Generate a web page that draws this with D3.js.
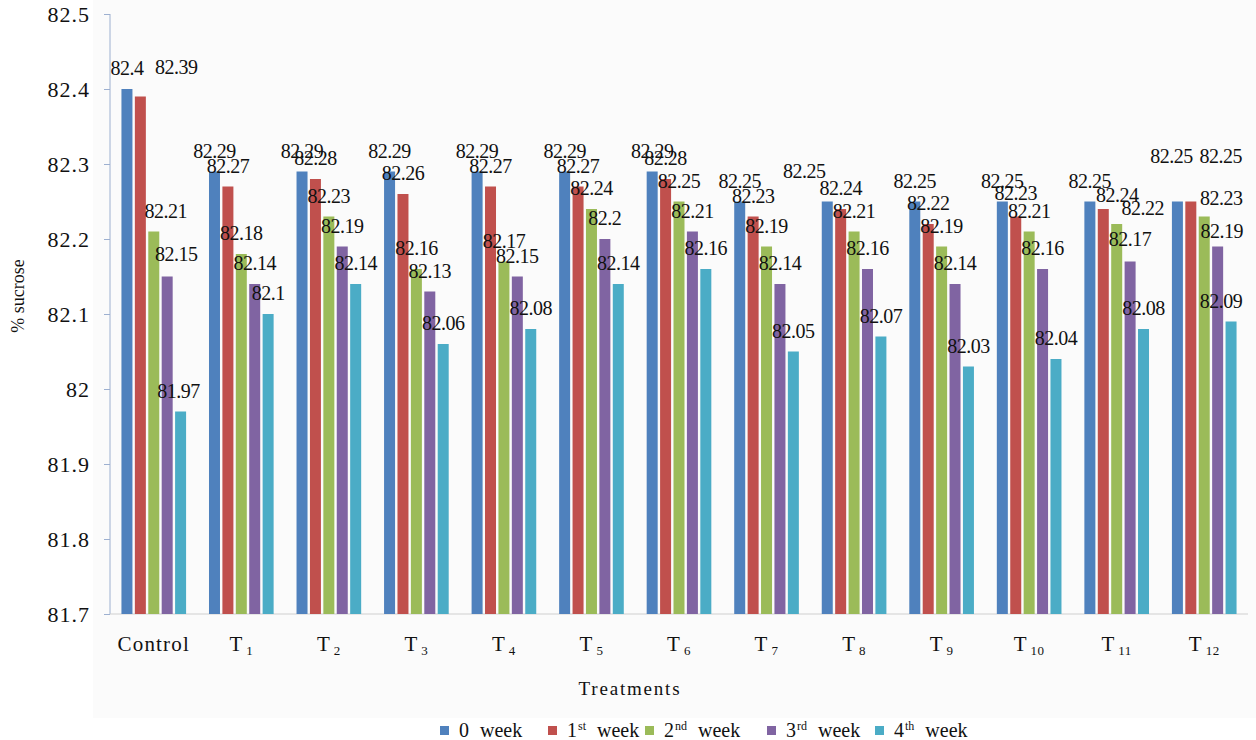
<!DOCTYPE html>
<html>
<head>
<meta charset="utf-8">
<script src="https://cdn.jsdelivr.net/npm/d3@7"></script>
<style>
  html, body { margin: 0; padding: 0; background: #fff; }
  svg { display: block; }
  svg text { font-family: "Liberation Serif", "Times New Roman", serif !important; }
</style>
</head>
<body>
<svg id="chart" width="1256" height="740"></svg>
<script>
// Treatments on the x axis
const categories = ["Control", "T1", "T2", "T3", "T4", "T5", "T6", "T7", "T8", "T9", "T10", "T11", "T12"];

// % sucrose per storage week
const week0 = [82.4, 82.29, 82.29, 82.29, 82.29, 82.29, 82.29, 82.25, 82.25, 82.25, 82.25, 82.25, 82.25];
const week1 = [82.39, 82.27, 82.28, 82.26, 82.27, 82.27, 82.28, 82.23, 82.24, 82.22, 82.23, 82.24, 82.25];
const week2 = [82.21, 82.18, 82.23, 82.16, 82.17, 82.24, 82.25, 82.19, 82.21, 82.19, 82.21, 82.22, 82.23];
const week3 = [82.15, 82.14, 82.19, 82.13, 82.15, 82.2, 82.21, 82.14, 82.16, 82.14, 82.16, 82.17, 82.19];
const week4 = [81.97, 82.1, 82.14, 82.06, 82.08, 82.14, 82.16, 82.05, 82.07, 82.03, 82.04, 82.08, 82.09];

// Legend entries: numeral + superscript suffix + "week"
const seriesNum = ["0", "1", "2", "3", "4"];
const seriesSup = ["", "st", "nd", "rd", "th"];

// Y axis ticks and their labels
const yTickValues = [81.7, 81.8, 81.9, 82.0, 82.1, 82.2, 82.3, 82.4, 82.5];
const yTickLabels = ["81.7", "81.8", "81.9", "82", "82.1", "82.2", "82.3", "82.4", "82.5"];

const series = [week0, week1, week2, week3, week4];
const colors = ["#4f81bd", "#c0504d", "#9bbb59", "#8064a2", "#4bacc6"];

const svg = d3.select("#chart");

// light chart-area backdrop
svg.append("rect").attr("x", 93).attr("y", 0).attr("width", 1163).attr("height", 718).attr("fill", "#fbfbfb");

const y = d3.scaleLinear().domain([81.7, 82.5]).range([614, 14]);
const x0 = d3.scaleBand().domain(categories).range([110, 1248]).paddingInner(0.234).paddingOuter(0.117);
const x1 = d3.scaleBand().domain(d3.range(series.length)).range([0, x0.bandwidth()]).paddingInner(0.18).paddingOuter(0.09);

// Y axis
const yAxis = d3.axisLeft(y).tickValues(yTickValues).tickSize(6).tickFormat((d, i) => yTickLabels[i]);
const gy = svg.append("g").attr("transform", "translate(110,0)").call(yAxis);
gy.select(".domain").attr("stroke", "#9db0d0").attr("d", "M0,14V614");
gy.selectAll(".tick line").attr("stroke", "#9db0d0");
gy.selectAll(".tick text")
  .attr("x", -20).attr("dy", "0.35em")
  .attr("fill", "#111").style("font-size", "22px").style("letter-spacing", "1px");

// X axis baseline
svg.append("line").attr("x1", 110).attr("x2", 1248).attr("y1", y(81.7)).attr("y2", y(81.7))
  .attr("stroke", "#cfcfcf").attr("stroke-width", 1);

// Bars
const groups = svg.append("g").selectAll("g").data(categories).join("g")
  .attr("transform", d => `translate(${x0(d)},0)`);

groups.selectAll("rect")
  .data((c, ci) => series.map((s, si) => ({ c, si, v: s[ci] })))
  .join("rect")
  .attr("x", d => x1(d.si))
  .attr("width", x1.bandwidth())
  .attr("y", d => y(d.v))
  .attr("height", d => y(81.7) - y(d.v))
  .attr("fill", d => colors[d.si]);

// Value labels: centred above each bar, with a few shifted to avoid clashes
const labelNudge = {
  "Control|1": [36, -9], "Control|2": [12, 0], "Control|3": [9, -2], "Control|4": [-2, 0],
  "T8|0": [-23, -10], "T10|1": [0, -3],
  "T11|1": [14, 7], "T11|2": [26, 5], "T11|3": [0, -2],
  "T12|0": [-6, -25], "T12|1": [30, -25], "T12|2": [17, 2], "T12|3": [4, 5], "T12|4": [-10, 0]
};
const labels = [];
categories.forEach((c, ci) => series.forEach((s, si) => labels.push({ c, si, v: s[ci] })));
svg.append("g").selectAll("text").data(labels).join("text")
  .attr("x", d => x0(d.c) + x1(d.si) + x1.bandwidth() / 2 + ((labelNudge[d.c + "|" + d.si] || [0, 0])[0]))
  .attr("y", d => y(d.v) - 14 + ((labelNudge[d.c + "|" + d.si] || [0, 0])[1]))
  .attr("text-anchor", "middle")
  .attr("fill", "#111")
  .style("font-size", "20px")
  .style("letter-spacing", "-0.5px")
  .text(d => String(d.v));

// Category labels (T with subscript number)
const catText = svg.append("g").selectAll("text").data(categories).join("text")
  .attr("x", d => x0(d) + x0.bandwidth() / 2)
  .attr("y", 651)
  .attr("text-anchor", "middle")
  .attr("fill", "#111")
  .style("font-size", "21px");
catText.each(function (d) {
  const t = d3.select(this);
  const m = /^T(\d+)$/.exec(d);
  if (m) {
    t.append("tspan").text("T");
    t.append("tspan").attr("dx", 4).attr("dy", 4).style("font-size", "13px").style("letter-spacing", "0.5px").text(m[1]);
  } else {
    t.style("letter-spacing", "1.2px").text(d);
  }
});

// Axis titles
svg.append("text").attr("x", 630).attr("y", 695).attr("text-anchor", "middle")
  .attr("fill", "#111").style("font-size", "19px").style("letter-spacing", "1.8px").text("Treatments");
svg.append("text").attr("transform", "translate(24,296) rotate(-90)").attr("text-anchor", "middle")
  .attr("fill", "#111").style("font-size", "18px").text("% sucrose");

// Legend
const legendX = [440, 548, 645, 767, 875];
const lg = svg.append("g");
seriesNum.forEach((n, i) => {
  const x = legendX[i];
  lg.append("rect").attr("x", x).attr("y", 726).attr("width", 9).attr("height", 9).attr("fill", colors[i]);
  const num = lg.append("text").attr("x", x + 19).attr("y", 737).attr("fill", "#111")
    .style("font-size", "20px").text(n);
  let end = x + 19 + num.node().getComputedTextLength();
  if (seriesSup[i]) {
    const sup = lg.append("text").attr("x", end + 1).attr("y", 730).attr("fill", "#111")
      .style("font-size", "12px").text(seriesSup[i]);
    end = end + 1 + sup.node().getComputedTextLength();
  }
  lg.append("text").attr("x", end + 11).attr("y", 737).attr("fill", "#111")
    .style("font-size", "20px").text("week");
});
</script>
</body>
</html>
